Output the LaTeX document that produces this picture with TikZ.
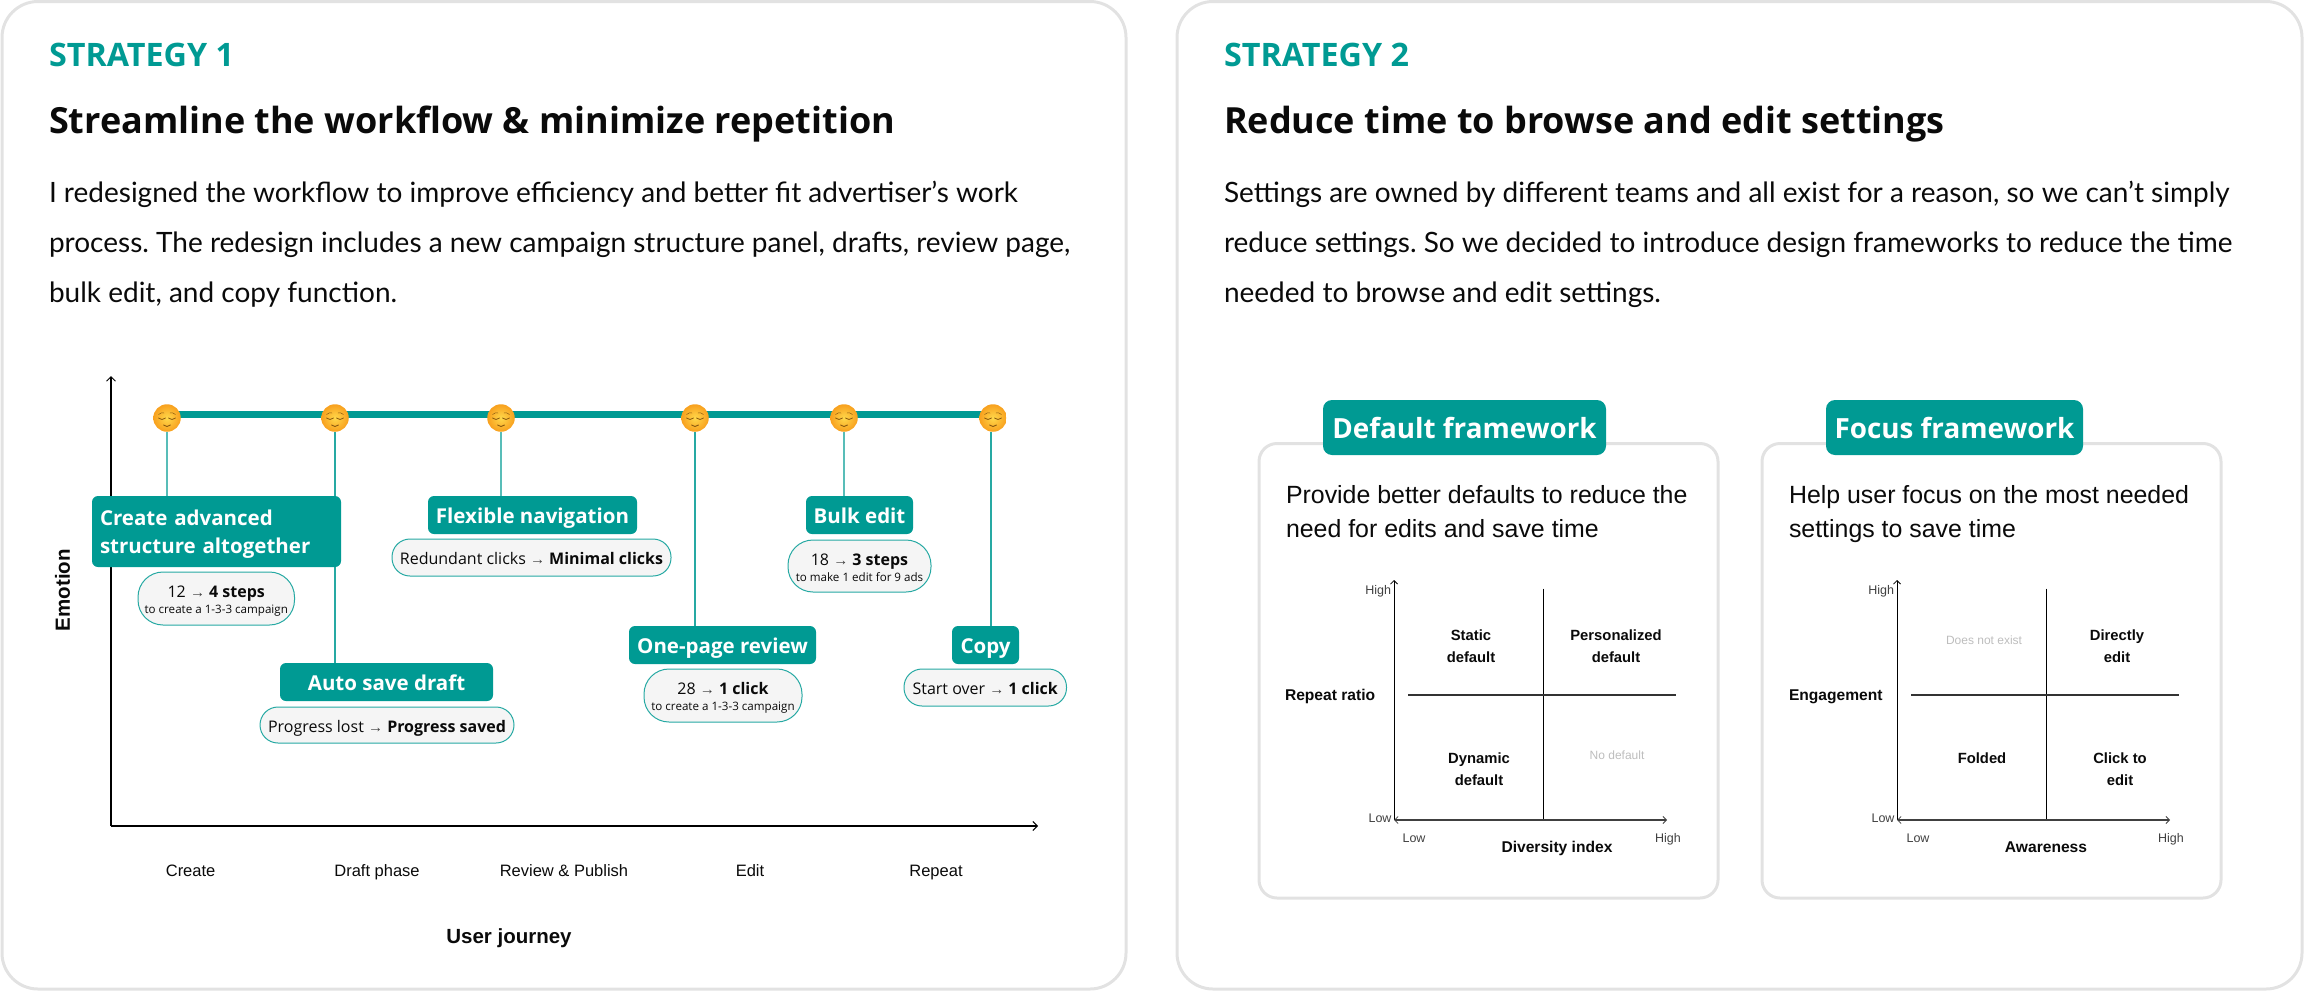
\documentclass[tikz,border=0pt]{standalone}
\usepackage{fontspec}
\usetikzlibrary{arrows.meta,backgrounds}
\setmainfont{Open Sans}
\newfontfamily\osf{Open Sans}
\newfontfamily\latof{Lato}
\newfontfamily\insf{Liberation Sans}
\newcommand\fsz[2]{\fontsize{#1}{#2}\selectfont}
\newcommand\arr{{\insf\fsz{15}{15}\textcolor{black!75}{→}}}
\newcommand\tlrule{\rule{0pt}{16pt}}
\definecolor{tealm}{HTML}{009A93}
\definecolor{teall}{HTML}{58BDB8}
\definecolor{panelg}{HTML}{E2E2E2}
\definecolor{pillg}{HTML}{F5F5F5}
\definecolor{faintg}{HTML}{BDBDBD}
\definecolor{inkk}{HTML}{0A0A0A}
\definecolor{emtop}{HTML}{FFD84A}
\definecolor{embot}{HTML}{F8A01E}
\definecolor{emink}{HTML}{8A5A10}
\newcommand\rnode[7]{\node[#6,minimum width={(#4-#2)*1pt},minimum height={(#5-#3)*1pt}] (#1) at ({(#2+#4)/2},{(#3+#5)/2}) {#7};}
\tikzset{
  every node/.style={inner sep=0pt,outer sep=0pt,text=inkk},
  panelbox/.style={draw=panelg,line width=3pt,rounded corners=36pt},
  subpanel/.style={draw=panelg,line width=3pt,rounded corners=18pt},
  tealbox/.style={fill=tealm,rounded corners=6pt,text=white,font=\osf\bfseries\fsz{20.5}{28},text height=18pt,text depth=2pt},
  tagbox/.style={fill=tealm,rounded corners=9pt,text=white,font=\osf\bfseries\fsz{27.8}{30},text height=24pt,text depth=2pt},
  pillone/.style={fill=pillg,draw=tealm!85,line width=1pt,rounded corners=18pt,font=\osf\fsz{16}{20},text height=16pt,text depth=2pt},
  pilltwo/.style={fill=pillg,draw=tealm!85,line width=1pt,rounded corners=25pt,font=\osf\fsz{16}{16},align=center},
  strat/.style={anchor=base west,text=tealm,font=\osf\bfseries\fsz{32.3}{32}},
  headl/.style={anchor=base west,font=\osf\bfseries\fsz{36}{36}},
  bodyt/.style={anchor=base west,align=left,font=\latof\frenchspacing\fsz{28}{50}},
  desct/.style={anchor=base west,align=left,font=\insf\fsz{24.9}{33.8}},
  axlab/.style={anchor=base,font=\insf\fsz{16.5}{20}},
  axbig/.style={anchor=base,font=\insf\bfseries\fsz{20.5}{24}},
  ql/.style={anchor=base,align=center,font=\insf\bfseries\fsz{14.8}{22}},
  qa/.style={font=\insf\bfseries\fsz{15.6}{20}},
  tick/.style={font=\insf\fsz{12.5}{14},text=black!75},
  faint/.style={anchor=base,font=\insf\fsz{12}{14},text=faintg},
  axl/.style={line width=1.4pt,draw=black,-{Straight Barb[length=4.5pt,width=9pt,line width=1pt]}},
  qaxy/.style={line width=1pt,draw=black,-{Straight Barb[length=3.5pt,width=7pt,line width=.8pt]}},
  qaxx/.style={line width=1.3pt,draw=black!75,{Straight Barb[length=3.5pt,width=7pt,line width=.8pt]}-{Straight Barb[length=3.5pt,width=7pt,line width=.8pt]}},
  qdiv/.style={line width=1pt,draw=black},
  qdivh/.style={line width=1.1pt,draw=black!80},
  conn/.style={line width=2pt,draw=teall},
  connd/.style={line width=1.6pt,draw=tealm!85},
  thick line/.style={line width=7pt,draw=tealm},
  emoji/.style={circle,minimum size=27.5pt,inner color=emtop,outer color=embot,
    path picture={
      \begin{scope}[shift={(path picture bounding box.center)},line cap=round,draw=emink]
        \draw[line width=.8pt] (-8.5,0) .. controls (-6.5,2) and (-3.5,2) .. (-1.5,0);
        \draw[line width=.8pt] (1.5,0) .. controls (3.5,2) and (6.5,2) .. (8.5,0);
        \draw[line width=.5pt] (-8.5,-3.5) .. controls (-6.5,-5.5) and (-4.5,-5.5) .. (-3,-5);
        \draw[line width=.5pt] (3,-5) .. controls (4.5,-5.5) and (6.5,-5.5) .. (8.5,-3.5);
        \draw[line width=.9pt] (-3.5,7) .. controls (-1.5,9) and (1.5,9) .. (3.5,7);
      \end{scope}}},
}
\begin{document}
\begin{tikzpicture}[x=1pt,y=-1pt]
\useasboundingbox (0,0) rectangle (2304,991);
% panels
\rnode{pa}{2}{1.5}{1126}{989}{panelbox}{}
\rnode{pb}{1177}{1.5}{2302}{989}{panelbox}{}
% headings
\node[strat] (s1) at (49,66) {STRATEGY 1};
\node[headl] (h1) at (49,133) {Streamline the workflow \& minimize repetition};
\node[bodyt] (b1t) at (49,302) {I redesigned the workflow to improve efficiency and better fit advertiser’s work\\process. The redesign includes a new campaign structure panel, drafts, review page,\\bulk edit, and copy function.};
\node[strat] (s2) at (1224,66) {STRATEGY 2};
\node[headl] (h2) at (1224,133) {Reduce time to browse and edit settings};
\node[bodyt] (b2t) at (1224,302) {Settings are owned by different teams and all exist for a reason, so we can’t simply\\reduce settings. So we decided to introduce design frameworks to reduce the time\\needed to browse and edit settings.};
% journey axes
\coordinate (jo) at (111,826);
\coordinate (jy) at (111,376);
\coordinate (jx) at (1038,826);
\draw[axl] (jo) -- (jy);
\draw[axl] (jo) -- (jx);
% emoji
\node[emoji] (e1) at (167,418) {};
\node[emoji] (e2) at (335,418) {};
\node[emoji] (e3) at (501,418) {};
\node[emoji] (e4) at (695,418) {};
\node[emoji] (e5) at (844,418) {};
\node[emoji] (e6) at (993,418) {};
% boxes
\rnode{b1}{92}{496}{341}{567}{tealbox,text height=,text depth=,align=left,text width=233pt}{\rule{0pt}{20.5pt}Create advanced\\structure altogether}
\rnode{p1}{138}{572}{294.5}{625}{pilltwo}{\tlrule 12 \arr{} \textbf{4 steps}\\{\fsz{11.6}{16}to create a 1-3-3 campaign}}
\rnode{b2}{280}{663}{493}{701}{tealbox}{Auto save draft}
\rnode{p2}{260}{707}{514}{743}{pillone}{Progress lost \arr{} \textbf{Progress saved}}
\rnode{b3}{428}{496}{637}{534}{tealbox}{Flexible navigation}
\rnode{p3}{392}{539}{671}{576}{pillone}{Redundant clicks \arr{} \textbf{Minimal clicks}}
\rnode{b4}{629}{626}{816}{664}{tealbox}{One-page review}
\rnode{p4}{644}{669}{802}{722}{pilltwo}{\tlrule 28 \arr{} \textbf{1 click}\\{\fsz{11.6}{16}to create a 1-3-3 campaign}}
\rnode{b5}{806}{496}{913}{534}{tealbox}{Bulk edit}
\rnode{p5}{788}{540}{931}{592}{pilltwo}{\tlrule 18 \arr{} \textbf{3 steps}\\{\fsz{11.6}{16}to make 1 edit for 9 ads}}
\rnode{b6}{952}{626}{1019}{664}{tealbox}{Copy}
\rnode{p6}{904}{669}{1066.5}{706}{pillone}{Start over \arr{} \textbf{1 click}}
% connectors behind
\begin{scope}[on background layer]
\draw[thick line] ([yshift=4pt]e1.center) -- ([yshift=4pt]e6.center);
\draw[conn] (e1.south) -- (e1.south |- b1.north);
\draw[connd] (e2.south) -- (e2.south |- b2.north);
\draw[conn] (e3.south) -- (e3.south |- b3.north);
\draw[connd] (e4.south) -- (e4.south |- b4.north);
\draw[conn] (e5.south) -- (e5.south |- b5.north);
\draw[connd] ([xshift=-2pt]e6.south) -- ([xshift=-2pt]e6.south |- b6.north);
\end{scope}
% journey labels
\node[anchor=center,rotate=90,font=\insf\bfseries\fsz{20.5}{24}] (emo) at (62.5,590) {Emotion};
\node[axlab] (l1) at (190.6,876) {Create};
\node[axlab] (l2) at (377,876) {Draft phase};
\node[axlab] (l3) at (564,876) {Review \& Publish};
\node[axlab] (l4) at (750,876) {Edit};
\node[axlab] (l5) at (936,876) {Repeat};
\node[axbig] (uj) at (509,943) {User journey};
% default framework
\rnode{sp1}{1259}{443.5}{1718}{898}{subpanel}{}
\rnode{tag1}{1323}{400}{1606}{455}{tagbox}{Default framework}
\node[desct] (d1) at (1286,537) {Provide better defaults to reduce the\\need for edits and save time};
\coordinate (ao) at (1394,820);
\coordinate (ay) at (1394,580);
\coordinate (ax) at (1667,820);
\coordinate (at) at (1543,588.5);
\coordinate (am) at (1543,820);
\coordinate (al) at (1408,695);
\coordinate (ar) at (1676,695);
\draw[qdiv] (at) -- (am);
\draw[qdivh] (al) -- (ar);
\draw[qaxy] (ao) -- (ay);
\draw[qaxx] (ao) -- (ax);
\node[tick,anchor=base east] (t1) at (1391,594) {High};
\node[tick,anchor=base] (t2) at (1380,822) {Low};
\node[tick,anchor=base] (t3) at (1414,842) {Low};
\node[tick,anchor=base] (t4) at (1668,842) {High};
\node[qa,anchor=base] (x1) at (1557,852.5) {Diversity index};
\node[qa,anchor=base west] (y1) at (1285,700.5) {Repeat ratio};
\node[ql] (q1) at (1471,662.3) {Static\\default};
\node[ql] (q2) at (1616,662.3) {Personalized\\default};
\node[ql] (q3) at (1479,785.3) {Dynamic\\default};
\node[faint] (q4) at (1617,759.3) {No default};
% focus framework
\rnode{sp2}{1762}{443.5}{2221}{898}{subpanel}{}
\rnode{tag2}{1826}{400}{2083}{455}{tagbox}{Focus framework}
\node[desct] (d2) at (1789,537) {Help user focus on the most needed\\settings to save time};
\coordinate (bo) at (1897,820);
\coordinate (by) at (1897,580);
\coordinate (bx) at (2170,820);
\coordinate (bt) at (2046,588.5);
\coordinate (bm) at (2046,820);
\coordinate (bl) at (1911,695);
\coordinate (br) at (2179,695);
\draw[qdiv] (bt) -- (bm);
\draw[qdivh] (bl) -- (br);
\draw[qaxy] (bo) -- (by);
\draw[qaxx] (bo) -- (bx);
\node[tick,anchor=base east] (u1) at (1894,594) {High};
\node[tick,anchor=base] (u2) at (1883,822) {Low};
\node[tick,anchor=base] (u3) at (1918,842) {Low};
\node[tick,anchor=base] (u4) at (2171,842) {High};
\node[qa,anchor=base] (x2) at (2046,852.5) {Awareness};
\node[qa,anchor=base west] (y2) at (1789,700.5) {Engagement};
\node[faint] (r1) at (1984,644.7) {Does not exist};
\node[ql] (r2) at (2117,662.8) {Directly\\edit};
\node[ql] (r3) at (1982,763.3) {Folded};
\node[ql] (r4) at (2120,785.3) {Click to\\edit};
\end{tikzpicture}
\end{document}
